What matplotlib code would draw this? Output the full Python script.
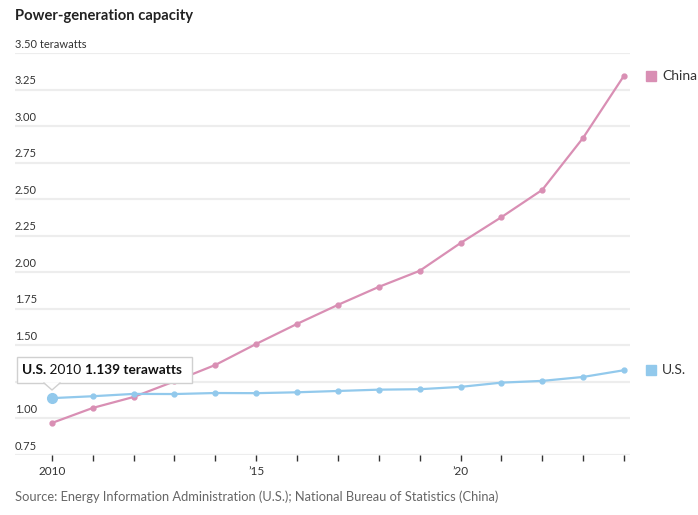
import numpy as np
import matplotlib as mpl
mpl.use('Agg')
import matplotlib.pyplot as plt
from matplotlib.patches import FancyBboxPatch, Polygon

plt.rcParams['font.family'] = ['Lato', 'DejaVu Sans']

years = list(range(2010, 2025))
china = [0.969, 1.072, 1.147, 1.254, 1.366, 1.51, 1.647, 1.777, 1.90, 2.01,
         2.20, 2.377, 2.564, 2.92, 3.345]
us = [1.139, 1.152, 1.168, 1.167, 1.174, 1.173, 1.179, 1.188, 1.197, 1.20,
      1.216, 1.245, 1.257, 1.284, 1.33]
yticks = [0.75, 1.00, 1.25, 1.50, 1.75, 2.00, 2.25, 2.50, 2.75, 3.00, 3.25, 3.50]
xlabels = {2010: '2010', 2015: "\u201915", 2020: "\u201920"}

c_china = '#d98fb4'
c_us = '#92c9ec'
W, H = 698, 515

fig = plt.figure(figsize=(W / 100, H / 100), dpi=100)
ax = fig.add_axes([15 / W, 1 - 455 / H, 615 / W, 402 / H])
ax.set_xlim(2010 - 37 / 41, 2024 + 6 / 41)
ax.set_ylim(0.75, 3.5)
for s in ax.spines.values():
    s.set_visible(False)

for v in yticks:
    ax.axhline(v, color='#ededed', lw=1.6, zorder=0)
    lab = '%.2f' % v
    if v == 3.5:
        lab += ' terawatts'
    ax.annotate(lab, (0, v), xycoords=('axes fraction', 'data'),
                xytext=(0, 2.5), textcoords='offset points',
                ha='left', va='bottom', fontsize=8, color='#333333')

ax.set_yticks([])
ax.set_xticks(years)
ax.set_xticklabels([xlabels.get(y, '') for y in years])
ax.tick_params(axis='x', length=4, width=1, color='#333333', pad=4,
               labelsize=8.5, labelcolor='#333333')

ax.plot(years, china, color=c_china, lw=1.6, marker='o', ms=3.5, zorder=3)
ax.plot(years, us, color=c_us, lw=1.6, marker='o', ms=3.5, zorder=3)
ax.plot(years[0], us[0], 'o', color=c_us, ms=7, zorder=4)

# legend labels at end of lines
for val, name, col in [(china[-1], 'China', c_china), (us[-1], 'U.S.', c_us)]:
    ax.plot([1 + 21 / 615], [val], marker='s', ms=7, color=col,
            transform=ax.get_yaxis_transform(), clip_on=False)
    ax.annotate(name, (1, val), xycoords=('axes fraction', 'data'),
                xytext=(32 * 0.72, 0), textcoords='offset points', ha='left', va='center',
                fontsize=10, color='#333333', annotation_clip=False)

# tooltip
box = FancyBboxPatch((17 / W, 1 - 383 / H), 175 / W, 26 / H,
                     boxstyle='square,pad=0', transform=fig.transFigure,
                     facecolor='white', edgecolor='#d0d0d0', lw=1, zorder=5)
fig.patches.append(box)
tri = Polygon([(44 / W, 1 - 382.5 / H), (60 / W, 1 - 382.5 / H), (52 / W, 1 - 390 / H)],
              closed=True, transform=fig.transFigure, facecolor='white',
              edgecolor='none', zorder=6)
fig.patches.append(tri)
fig.add_artist(plt.Line2D([44 / W, 52 / W, 60 / W], [1 - 383 / H, 1 - 390 / H, 1 - 383 / H],
                          transform=fig.transFigure, color='#d0d0d0', lw=1, zorder=7))

fig.canvas.draw()
r = fig.canvas.get_renderer()
x = 22
for txt, wt in [('U.S.', 'bold'), (' 2010 ', 'normal'), ('1.139 terawatts', 'bold')]:
    t = fig.text(x / W, 1 - 370 / H, txt, ha='left', va='center', fontsize=9.8,
                 fontweight=wt, color='#111111', zorder=8)
    x += t.get_window_extent(r).width

fig.text(15 / W, 1 - 16 / H, 'Power-generation capacity', ha='left', va='center',
         fontsize=10.6, fontweight='bold', color='#222222')
fig.text(15 / W, 1 - 497 / H,
         'Source: Energy Information Administration (U.S.); National Bureau of Statistics (China)',
         ha='left', va='center', fontsize=9.3, color='#666666')

fig.savefig('out.png', dpi=100)
